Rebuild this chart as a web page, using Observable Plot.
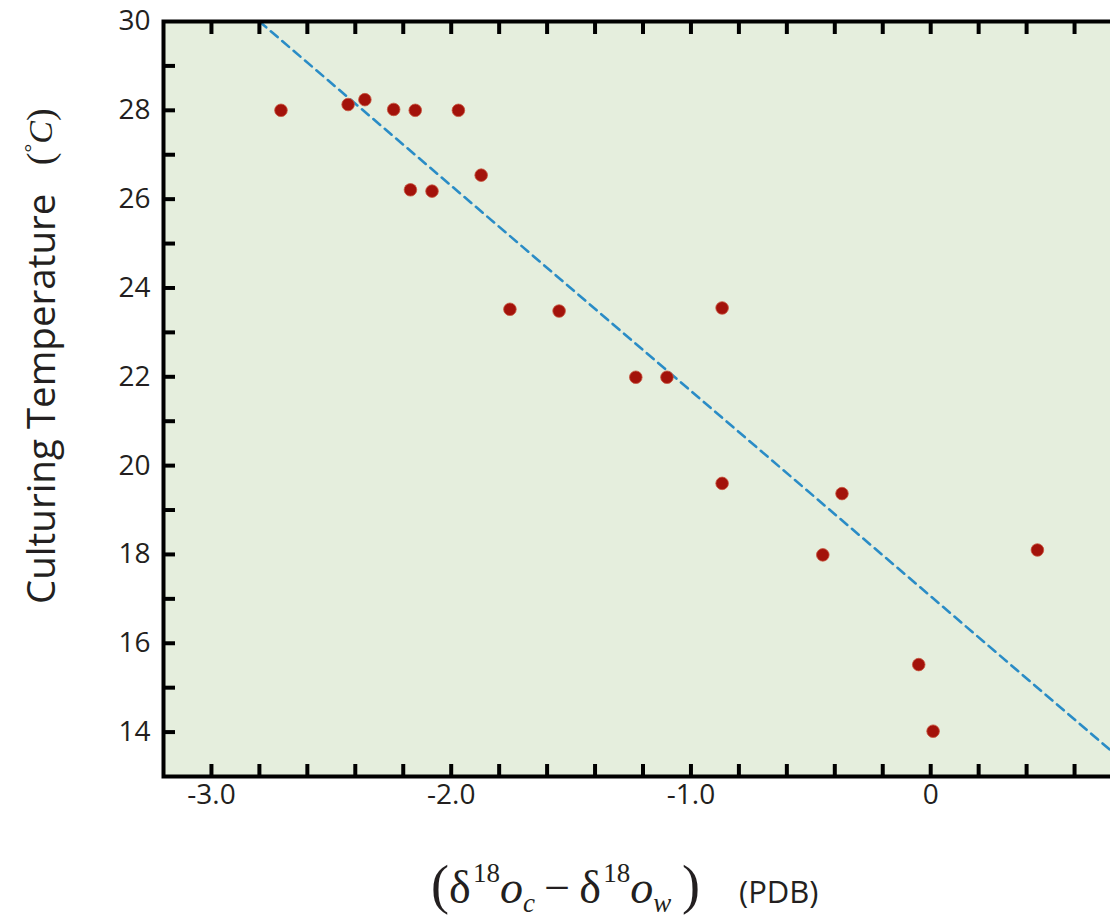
<!DOCTYPE html>
<html>
<head>
<meta charset="utf-8">
<script src="https://cdn.jsdelivr.net/npm/d3@7"></script>
<script src="https://cdn.jsdelivr.net/npm/@observablehq/plot@0.6"></script>
<style>
  html, body { margin: 0; padding: 0; background: #ffffff; overflow: hidden; }
  #chart { width: 1110px; height: 920px; overflow: hidden; }
  #chart svg { max-width: none !important; }
</style>
</head>
<body>
<div id="chart"></div>
<script>
// ---- data ----
const deltaDiff = [-2.71, -2.43, -2.36, -2.24, -2.15, -1.97, -1.875, -2.17, -2.08, -1.755,
                   -1.55, -0.87, -1.23, -1.10, -0.87, -0.37, -0.45, 0.445, -0.05, 0.01];
const temperature = [28.0, 28.13, 28.24, 28.02, 28.0, 28.0, 26.54, 26.21, 26.18, 23.52,
                     23.48, 23.55, 21.99, 21.99, 19.6, 19.37, 17.99, 18.1, 15.52, 14.02];

// dashed calibration line (end points)
const fitX = [-2.8, 0.8];
const fitY = [30.0, 13.36];

// axes
const xDomain = [-3.2, 0.8];
const yDomain = [13, 30];
const xMinorTicks = [-3.0, -2.8, -2.6, -2.4, -2.2, -2.0, -1.8, -1.6, -1.4, -1.2,
                     -1.0, -0.8, -0.6, -0.4, -0.2, 0.0, 0.2, 0.4, 0.6];
const xLabelValues = [-3, -2, -1, 0];
const xLabelText = ["-3.0", "-2.0", "-1.0", "0"];
const yMinorTicks = [14, 15, 16, 17, 18, 19, 20, 21, 22, 23, 24, 25, 26, 27, 28, 29];
const yLabelValues = [14, 16, 18, 20, 22, 24, 26, 28, 30];

const points = deltaDiff.map((x, i) => ({x, y: temperature[i]}));
const fitLine = fitX.map((x, i) => ({x, y: fitY[i]}));

const tickStyle = {stroke: "#000", strokeWidth: 4, text: null, label: null, tickSize: -12};
const textStyle = {tickSize: 0, label: null, fontSize: 28, fontFamily: "Open Sans", fill: "#231f20"};

const svg = Plot.plot({
  width: 1130,
  height: 920,
  marginLeft: 163,
  marginRight: 8,
  marginTop: 21,
  marginBottom: 144,
  style: {background: "transparent", fontFamily: "Open Sans", overflow: "visible", maxWidth: "none"},
  x: {domain: xDomain, label: null},
  y: {domain: yDomain, label: null},
  marks: [
    Plot.frame({fill: "#e5eedd", stroke: null}),
    Plot.line(fitLine, {x: "x", y: "y", stroke: "#2a8cc6", strokeWidth: 2.6, strokeDasharray: "9,6"}),
    Plot.dot(points, {x: "x", y: "y", r: 6.3, fill: "#a3120a", stroke: "#c8553f", strokeWidth: 0.8}),
    Plot.axisX({...tickStyle, anchor: "bottom", ticks: xMinorTicks}),
    Plot.axisX({...tickStyle, anchor: "top", ticks: xMinorTicks}),
    Plot.axisY({...tickStyle, anchor: "left", ticks: yMinorTicks}),
    Plot.axisY({...tickStyle, anchor: "right", ticks: yMinorTicks}),
    Plot.axisX({...textStyle, anchor: "bottom", ticks: xLabelValues, tickPadding: 8,
                tickFormat: d => xLabelText[xLabelValues.indexOf(d)]}),
    Plot.axisY({...textStyle, anchor: "left", ticks: yLabelValues, tickPadding: 13,
                tickFormat: d => String(d)}),
    Plot.frame({stroke: "#000", strokeWidth: 4})
  ]
});
svg.style.maxWidth = "none";
svg.style.width = "1130px";
svg.style.height = "920px";

const s = d3.select(svg);

// y-axis title (flows upward from the bottom end)
const yt = s.append("text")
  .attr("transform", "translate(40,604) rotate(-90)")
  .attr("text-anchor", "start")
  .attr("dominant-baseline", "central")
  .attr("fill", "#231f20")
  .attr("xml:space", "preserve");
yt.append("tspan").attr("font-family", "Open Sans").attr("font-size", 38.5)
  .text("Culturing Temperature");
yt.append("tspan").attr("font-family", "Liberation Serif").attr("font-size", 38)
  .text("\u00a0\u00a0\u00a0(");
yt.append("tspan").attr("font-family", "Liberation Serif").attr("font-size", 22)
  .attr("dy", -9).text("\u00b0");
yt.append("tspan").attr("font-family", "Liberation Serif").attr("font-style", "italic")
  .attr("font-size", 34).attr("dy", 9).text("C");
yt.append("tspan").attr("font-family", "Liberation Serif").attr("font-size", 38).text(")");

// x-axis title
const xt = s.append("text")
  .attr("x", 431).attr("y", 903)
  .attr("text-anchor", "start")
  .attr("fill", "#231f20")
  .attr("font-family", "Liberation Serif")
  .attr("xml:space", "preserve");
xt.append("tspan").attr("font-size", 54).text("(");
xt.append("tspan").attr("font-size", 46).text("\u03b4");
xt.append("tspan").attr("font-size", 27).attr("dy", -21).text("\u200a18");
xt.append("tspan").attr("font-size", 46).attr("font-style", "italic").attr("dy", 21).text("o");
xt.append("tspan").attr("font-size", 27).attr("font-style", "italic").attr("dy", 9).text("c");
xt.append("tspan").attr("font-size", 46).attr("dy", -9).text("\u2009\u2212\u2009\u03b4");
xt.append("tspan").attr("font-size", 27).attr("dy", -21).text("\u200a18");
xt.append("tspan").attr("font-size", 46).attr("font-style", "italic").attr("dy", 21).text("o");
xt.append("tspan").attr("font-size", 27).attr("font-style", "italic").attr("dy", 9).text("w");
xt.append("tspan").attr("font-size", 54).attr("dy", -9).text("\u2009)");

s.append("text")
  .attr("x", 739).attr("y", 903)
  .attr("text-anchor", "start")
  .attr("fill", "#231f20")
  .attr("font-family", "Open Sans")
  .attr("font-size", 31)
  .text("(PDB)");

document.getElementById("chart").appendChild(svg);
</script>
</body>
</html>
